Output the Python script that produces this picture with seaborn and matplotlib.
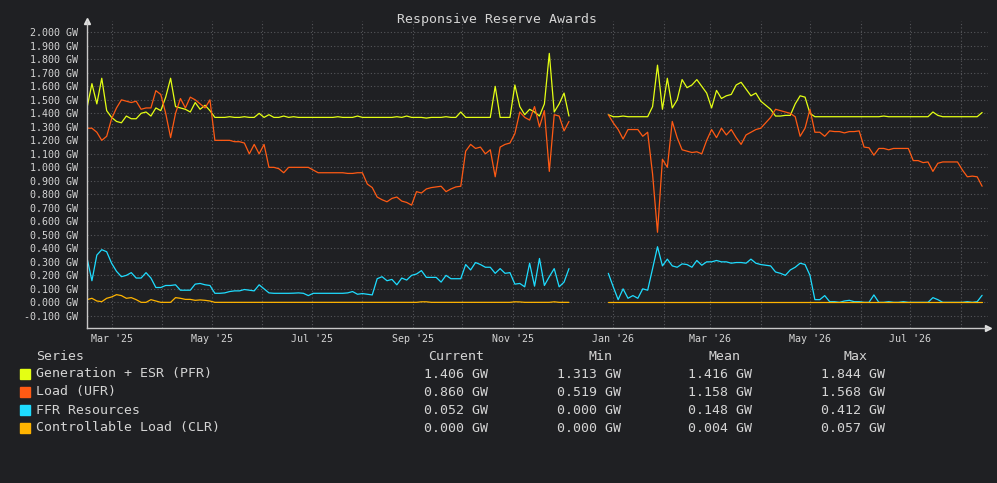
import numpy as np
import pandas as pd
import matplotlib
matplotlib.use("Agg")
import matplotlib.pyplot as plt
import matplotlib.dates as mdates
from matplotlib.patches import Rectangle
import seaborn as sns

# --- DATA (one sample every 3 days from 14 Feb 2025) ---
START = "2025-02-14"
STEP = "3D"
nan = np.nan
GAP = [nan] * 7  # no data mid Dec 2025 -> end Dec 2025

gen_pfr = [
    1.44, 1.62, 1.47, 1.66, 1.42, 1.37, 1.34, 1.33, 1.38, 1.36,
    1.36, 1.40, 1.41, 1.38, 1.44, 1.42, 1.52, 1.66, 1.45, 1.44,
    1.43, 1.41, 1.48, 1.43, 1.46, 1.42, 1.37, 1.37, 1.37, 1.375,
    1.37, 1.37, 1.375, 1.37, 1.37, 1.40, 1.37, 1.39, 1.37, 1.37,
    1.38, 1.37, 1.375, 1.37, 1.37, 1.37, 1.37, 1.37, 1.37, 1.37,
    1.37, 1.375, 1.37, 1.37, 1.37, 1.38, 1.37, 1.37, 1.37, 1.37,
    1.37, 1.37, 1.37, 1.375, 1.37, 1.38, 1.37, 1.37, 1.37, 1.365,
    1.37, 1.37, 1.37, 1.375, 1.37, 1.37, 1.41, 1.37, 1.37, 1.37,
    1.37, 1.37, 1.37, 1.60, 1.37, 1.37, 1.37, 1.61, 1.45, 1.39,
    1.43, 1.41, 1.38, 1.47, 1.844, 1.41, 1.47, 1.55, 1.38,
] + GAP + [
    1.39, 1.375, 1.375, 1.38, 1.375, 1.375, 1.375, 1.375, 1.375, 1.45,
    1.757, 1.43, 1.66, 1.44, 1.50, 1.65, 1.59, 1.61, 1.65, 1.60,
    1.55, 1.44, 1.57, 1.51, 1.53, 1.54, 1.61, 1.63, 1.58, 1.53,
    1.55, 1.49, 1.46, 1.43, 1.38, 1.38, 1.385, 1.385, 1.47, 1.53,
    1.52, 1.40, 1.375, 1.375, 1.375, 1.375, 1.375, 1.375, 1.375, 1.375,
    1.375, 1.375, 1.375, 1.375, 1.375, 1.375, 1.38, 1.375, 1.375, 1.375,
    1.375, 1.375, 1.375, 1.375, 1.375, 1.375, 1.41, 1.385, 1.375, 1.375,
    1.375, 1.375, 1.375, 1.375, 1.375, 1.375, 1.406,
]

load_ufr = [
    1.29, 1.29, 1.26, 1.20, 1.23, 1.36, 1.44, 1.50, 1.49, 1.48,
    1.49, 1.43, 1.44, 1.44, 1.568, 1.54, 1.40, 1.22, 1.40, 1.51,
    1.44, 1.52, 1.50, 1.47, 1.44, 1.50, 1.20, 1.20, 1.20, 1.20,
    1.19, 1.19, 1.18, 1.10, 1.17, 1.10, 1.17, 1.00, 1.00, 0.99,
    0.96, 1.00, 1.00, 1.00, 1.00, 1.00, 0.98, 0.96, 0.96, 0.96,
    0.96, 0.96, 0.96, 0.955, 0.955, 0.96, 0.96, 0.876, 0.85, 0.78,
    0.76, 0.745, 0.77, 0.78, 0.75, 0.74, 0.72, 0.82, 0.81, 0.84,
    0.85, 0.855, 0.86, 0.82, 0.84, 0.855, 0.86, 1.12, 1.17, 1.14,
    1.15, 1.10, 1.13, 0.93, 1.15, 1.17, 1.18, 1.25, 1.41, 1.37,
    1.35, 1.45, 1.30, 1.42, 0.97, 1.39, 1.38, 1.27, 1.34,
] + GAP + [
    1.39, 1.33, 1.28, 1.21, 1.28, 1.28, 1.28, 1.23, 1.26, 0.95,
    0.519, 1.06, 1.00, 1.34, 1.22, 1.13, 1.12, 1.11, 1.115, 1.10,
    1.20, 1.28, 1.22, 1.29, 1.24, 1.28, 1.22, 1.17, 1.24, 1.26,
    1.28, 1.29, 1.33, 1.37, 1.43, 1.42, 1.41, 1.40, 1.375, 1.23,
    1.29, 1.43, 1.26, 1.26, 1.23, 1.27, 1.265, 1.265, 1.255, 1.265,
    1.265, 1.27, 1.15, 1.145, 1.09, 1.14, 1.14, 1.13, 1.14, 1.14,
    1.14, 1.14, 1.05, 1.05, 1.035, 1.04, 0.97, 1.03, 1.04, 1.04,
    1.04, 1.04, 0.98, 0.93, 0.935, 0.93, 0.86,
]

ffr = [
    0.33, 0.16, 0.35, 0.39, 0.375, 0.29, 0.23, 0.19, 0.20, 0.22,
    0.18, 0.18, 0.22, 0.18, 0.11, 0.11, 0.125, 0.125, 0.13, 0.09,
    0.09, 0.09, 0.135, 0.14, 0.13, 0.125, 0.067, 0.067, 0.07, 0.08,
    0.085, 0.085, 0.095, 0.09, 0.085, 0.13, 0.10, 0.07, 0.067, 0.067,
    0.067, 0.067, 0.068, 0.07, 0.067, 0.05, 0.067, 0.067, 0.067, 0.067,
    0.067, 0.067, 0.067, 0.07, 0.08, 0.06, 0.065, 0.06, 0.055, 0.175,
    0.19, 0.16, 0.17, 0.13, 0.18, 0.165, 0.20, 0.21, 0.235, 0.185,
    0.185, 0.185, 0.15, 0.20, 0.175, 0.175, 0.175, 0.28, 0.24, 0.295,
    0.28, 0.26, 0.26, 0.215, 0.25, 0.215, 0.22, 0.135, 0.14, 0.115,
    0.29, 0.12, 0.325, 0.125, 0.19, 0.25, 0.115, 0.15, 0.25,
] + GAP + [
    0.215, 0.115, 0.02, 0.10, 0.03, 0.05, 0.03, 0.10, 0.09, 0.25,
    0.412, 0.27, 0.32, 0.27, 0.26, 0.285, 0.28, 0.26, 0.31, 0.275,
    0.30, 0.30, 0.31, 0.30, 0.30, 0.29, 0.295, 0.295, 0.29, 0.32,
    0.29, 0.28, 0.275, 0.27, 0.225, 0.215, 0.20, 0.24, 0.26, 0.29,
    0.28, 0.20, 0.02, 0.02, 0.05, 0.005, 0.005, 0.0, 0.01, 0.015,
    0.005, 0.005, 0.0, 0.0, 0.055, 0.0, 0.0, 0.005, 0.0, 0.0,
    0.005, 0.0, 0.0, 0.0, 0.0, 0.0, 0.035, 0.02, 0.0, 0.0,
    0.0, 0.0, 0.0, 0.005, 0.0, 0.005, 0.052,
]

clr = [
    0.02, 0.03, 0.01, 0.005, 0.03, 0.04, 0.057, 0.05, 0.03, 0.035,
    0.02, 0.0, 0.0, 0.02, 0.01, 0.0, 0.0, 0.0, 0.035, 0.03,
    0.022, 0.022, 0.015, 0.018, 0.015, 0.01, 0.0, 0.0, 0.0, 0.0,
    0.0, 0.0, 0.0, 0.0, 0.0, 0.0, 0.0, 0.0, 0.0, 0.0,
    0.0, 0.0, 0.0, 0.0, 0.0, 0.0, 0.0, 0.0, 0.0, 0.0,
    0.0, 0.0, 0.0, 0.0, 0.0, 0.0, 0.0, 0.0, 0.0, 0.0,
    0.0, 0.0, 0.0, 0.0, 0.0, 0.0, 0.0, 0.0, 0.004, 0.004,
    0.0, 0.0, 0.0, 0.0, 0.0, 0.0, 0.0, 0.0, 0.0, 0.0,
    0.0, 0.0, 0.0, 0.0, 0.0, 0.0, 0.0, 0.004, 0.003, 0.0,
    0.0, 0.0, 0.0, 0.0, 0.0, 0.004, 0.0, 0.0, 0.0,
] + GAP + [0.0] * 77

series_names = ["Generation + ESR (PFR)", "Load (UFR)", "FFR Resources",
                "Controllable Load (CLR)"]
series_values = [gen_pfr, load_ufr, ffr, clr]
colors = ["#e4ff14", "#ff5a14", "#1edcff", "#ffb400"]

# legend table stats as shown on the chart
stat_current = ["1.406 GW", "0.860 GW", "0.052 GW", "0.000 GW"]
stat_min = ["1.313 GW", "0.519 GW", "0.000 GW", "0.000 GW"]
stat_mean = ["1.416 GW", "1.158 GW", "0.148 GW", "0.004 GW"]
stat_max = ["1.844 GW", "1.568 GW", "0.412 GW", "0.057 GW"]

# --- LONG FORM FRAME ---
n = len(gen_pfr)
dates = pd.date_range(START, periods=n, freq=STEP)
rows = []
for name, vals in zip(series_names, series_values):
    seg = 0
    for d, v in zip(dates, vals):
        if np.isnan(v):
            seg = 1
            continue
        rows.append({"date": d, "value": v, "series": name, "segment": seg})
df = pd.DataFrame(rows)

# --- STYLE ---
BG = "#1f2023"
TXT = "#d4d4d4"
sns.set_style("dark")
plt.rcParams["font.family"] = ["DejaVu Sans Mono", "DejaVu Sans"]

W, H = 997, 483
fig = plt.figure(figsize=(W / 100, H / 100), dpi=100, facecolor=BG)
ax = fig.add_axes([87 / W, 1 - 328 / H, (988 - 87) / W, (328 - 21) / H])
ax.set_facecolor(BG)

sns.lineplot(data=df, x="date", y="value", hue="series", units="segment",
             estimator=None, palette=dict(zip(series_names, colors)),
             hue_order=series_names, linewidth=0.9, legend=False, ax=ax)

x0 = pd.Timestamp(START)
ax.set_xlim(x0, x0 + pd.Timedelta(days=549.6))
ax.set_ylim(-0.190, 2.084)

# grid + ticks
ax.set_yticks(np.round(np.arange(-0.1, 2.001, 0.1), 1))
ax.yaxis.set_major_formatter(plt.FuncFormatter(lambda v, _: f"{v + 0.0:.3f} GW"))
ax.xaxis.set_major_locator(mdates.MonthLocator())
ax.xaxis.set_major_formatter(plt.FuncFormatter(
    lambda v, _: mdates.num2date(v).strftime("%b '%y") if mdates.num2date(v).month % 2 == 1 else ""))
ax.grid(True, color="#55565a", linestyle=(0, (1, 2)), linewidth=0.8)
ax.tick_params(colors="#b0b0b0", labelcolor=TXT, labelsize=7.2, length=3, width=0.8)
ax.tick_params(axis="x", pad=1.5)
ax.set_xlabel("")
ax.set_ylabel("")

for side in ["top", "right"]:
    ax.spines[side].set_visible(False)
for side in ["left", "bottom"]:
    ax.spines[side].set_color("#c8c8c8")
    ax.spines[side].set_linewidth(1.0)
ax.plot(1, 0, ">", color="#e0e0e0", ms=5, transform=ax.transAxes, clip_on=False)
ax.plot(0, 1, "^", color="#e0e0e0", ms=4, transform=ax.transAxes, clip_on=False)

# title
fig.text(497 / W, 1 - 19 / H, "Responsive Reserve Awards", ha="center", va="center",
         color=TXT, fontsize=9.5)

# --- LEGEND TABLE ---
def fy(y):
    return 1 - y / H

fs = 9.5
fig.text(36 / W, fy(356), "Series", color=TXT, fontsize=fs, va="center")
fig.text(428 / W, fy(356), "Current", color=TXT, fontsize=fs, va="center")
fig.text(600 / W, fy(356), "Min", color=TXT, fontsize=fs, va="center", ha="center")
fig.text(724 / W, fy(356), "Mean", color=TXT, fontsize=fs, va="center", ha="center")
fig.text(855 / W, fy(356), "Max", color=TXT, fontsize=fs, va="center", ha="center")
for k, name in enumerate(series_names):
    y = 374 + 18 * k
    fig.patches.append(Rectangle((20 / W, fy(y + 5)), 10 / W, 10 / H,
                                 transform=fig.transFigure, color=colors[k]))
    fig.text(36 / W, fy(y), name, color=TXT, fontsize=fs, va="center")
    fig.text(424 / W, fy(y), stat_current[k], color=TXT, fontsize=fs, va="center")
    fig.text(557 / W, fy(y), stat_min[k], color=TXT, fontsize=fs, va="center")
    fig.text(688 / W, fy(y), stat_mean[k], color=TXT, fontsize=fs, va="center")
    fig.text(821 / W, fy(y), stat_max[k], color=TXT, fontsize=fs, va="center")

fig.savefig("out.png", dpi=100, facecolor=BG)
